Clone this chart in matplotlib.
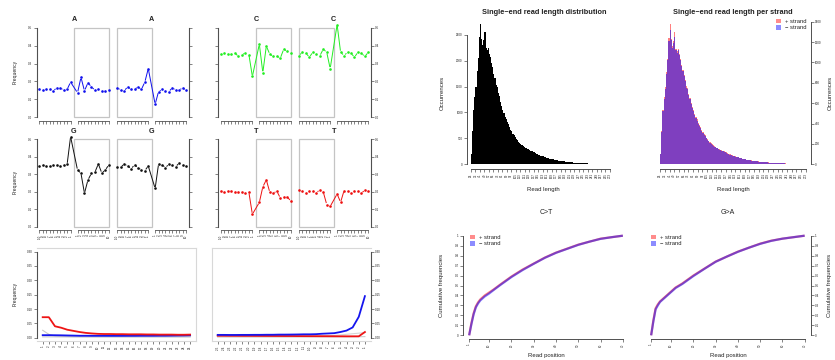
import numpy as np
import matplotlib.pyplot as plt
from matplotlib.patches import Rectangle, Patch

plt.rcParams['font.family'] = ['Liberation Sans', 'DejaVu Sans']

W, H = 835, 360

# ---- data -------------------------------------------------------------
pos_ctx = list(range(-10, 0)) + list(range(1, 11))

a_5p = [0.157, 0.151, 0.155, 0.155, 0.147, 0.164, 0.164, 0.151, 0.155, 0.196,
        0.136, 0.223, 0.147, 0.192, 0.170, 0.151, 0.157, 0.147, 0.147, 0.151]
a_3p = [0.164, 0.151, 0.147, 0.170, 0.155, 0.155, 0.170, 0.155, 0.196, 0.272,
        0.072, 0.143, 0.155, 0.147, 0.143, 0.164, 0.151, 0.151, 0.164, 0.151]
c_5p = [0.353, 0.357, 0.353, 0.355, 0.360, 0.340, 0.347, 0.362, 0.351, 0.228,
        0.409, 0.249, 0.398, 0.353, 0.340, 0.343, 0.330, 0.381, 0.368, 0.358]
c_3p = [0.345, 0.364, 0.358, 0.336, 0.364, 0.353, 0.343, 0.381, 0.364, 0.272,
        0.519, 0.364, 0.345, 0.364, 0.358, 0.336, 0.364, 0.358, 0.340, 0.364]
g_5p = [0.349, 0.353, 0.349, 0.345, 0.353, 0.353, 0.349, 0.355, 0.357, 0.515,
        0.324, 0.305, 0.191, 0.267, 0.305, 0.311, 0.359, 0.307, 0.324, 0.353]
g_3p = [0.340, 0.340, 0.359, 0.347, 0.332, 0.353, 0.338, 0.324, 0.321, 0.347,
        0.219, 0.359, 0.355, 0.338, 0.357, 0.355, 0.344, 0.364, 0.353, 0.347]
t_5p = [0.202, 0.199, 0.204, 0.204, 0.200, 0.200, 0.200, 0.191, 0.197, 0.071,
        0.139, 0.228, 0.268, 0.197, 0.191, 0.204, 0.165, 0.172, 0.172, 0.146]
t_3p = [0.210, 0.204, 0.195, 0.206, 0.206, 0.195, 0.210, 0.199, 0.127, 0.116,
        0.187, 0.140, 0.206, 0.206, 0.195, 0.206, 0.202, 0.191, 0.210, 0.202]

pos_5p = list(range(1, 26))
pos_3p = list(range(-25, 0))
ct_5p = [0.0716, 0.0716, 0.040, 0.035, 0.028, 0.024, 0.020, 0.017, 0.015, 0.0136,
         0.013, 0.013, 0.0125, 0.0125, 0.012, 0.012, 0.012, 0.0115, 0.0115, 0.011,
         0.011, 0.011, 0.0105, 0.0105, 0.011]
ga_5p = [0.009, 0.009, 0.0088, 0.0085, 0.008, 0.0075, 0.007, 0.007, 0.0068, 0.0068,
         0.0068, 0.0067, 0.0067, 0.0067, 0.0068, 0.0068, 0.007, 0.007, 0.007, 0.0072,
         0.0072, 0.0075, 0.0078, 0.008, 0.0085]
other_5p_a = [0.026, 0.012, 0.006, 0.005, 0.0045, 0.004, 0.004, 0.004, 0.004, 0.004,
              0.004, 0.004, 0.004, 0.004, 0.004, 0.004, 0.004, 0.004, 0.004, 0.004,
              0.004, 0.004, 0.004, 0.004, 0.004]
other_5p_b = [0.003, 0.003, 0.003, 0.0028, 0.0028, 0.0027, 0.0027, 0.0026, 0.0026, 0.0026,
              0.0026, 0.0026, 0.0026, 0.0026, 0.0026, 0.0026, 0.0026, 0.0026, 0.0026, 0.0026,
              0.0026, 0.0026, 0.0026, 0.0027, 0.0027]
ga_3p = [0.010, 0.010, 0.0098, 0.0098, 0.010, 0.010, 0.0102, 0.0102, 0.0105, 0.0105,
         0.011, 0.011, 0.0112, 0.0115, 0.012, 0.012, 0.0125, 0.014, 0.015, 0.016,
         0.020, 0.025, 0.036, 0.073, 0.145]
ct_3p = [0.007, 0.007, 0.0068, 0.0068, 0.0066, 0.0066, 0.0065, 0.0064, 0.0063, 0.0062,
         0.0061, 0.006, 0.006, 0.0058, 0.0057, 0.0056, 0.0055, 0.0054, 0.0053, 0.0052,
         0.0051, 0.005, 0.005, 0.005, 0.020]
other_3p_a = [0.004, 0.004, 0.004, 0.004, 0.004, 0.004, 0.004, 0.004, 0.004, 0.004,
              0.004, 0.004, 0.004, 0.0042, 0.0045, 0.005, 0.0055, 0.006, 0.007, 0.008,
              0.010, 0.012, 0.014, 0.016, 0.018]
other_3p_b = [0.0026, 0.0026, 0.0026, 0.0026, 0.0026, 0.0026, 0.0026, 0.0026, 0.0026, 0.0026,
              0.0026, 0.0026, 0.0026, 0.0026, 0.0026, 0.0026, 0.0027, 0.0027, 0.0028, 0.0028,
              0.003, 0.003, 0.0032, 0.0035, 0.004]

# read length histogram, bins of 2 starting at 25
len_total = [200, 650, 1050, 1300, 1500, 1800, 2050, 2450, 2700, 2420, 2300, 2400, 2550, 2250,
             2200, 2250, 2130, 2060, 1950, 1870, 1750, 1660, 1520, 1490, 1380, 1310, 1200, 1130,
             1050, 990, 920, 880, 810, 770, 720, 670, 635, 590, 560, 525, 490, 465, 430, 415,
             390, 372, 350, 338, 320, 307, 295, 286, 275, 266, 255, 242, 228, 218, 205, 197,
             186, 178, 168, 161, 152, 146, 138, 131, 123, 117, 110, 105, 98, 93, 87, 83, 78,
             75, 70, 67, 63, 60, 56, 54, 50, 48, 45, 43, 40, 38, 36, 34, 32, 30, 29, 27, 26,
             24, 22, 20, 19, 18, 17, 16, 15, 15, 14, 13, 13, 12, 12, 11, 10, 10, 9, 9, 8, 8,
             7, 7, 6, 6, 5, 5, 4]
len_plus = [100, 330, 530, 660, 760, 910, 1030, 1240, 1380, 1230, 1160, 1210, 1300, 1130,
            1110, 1130, 1080, 1030, 980, 930, 880, 830, 770, 745, 695, 655, 605, 565, 530,
            495, 465, 440, 410, 385, 365, 340, 318, 298, 283, 263, 248, 233, 218, 208, 198,
            188, 178, 170, 162, 155, 150, 145, 140, 135, 130, 122, 116, 110, 104, 99, 94, 89,
            85, 81, 77, 74, 70, 66, 62, 59, 56, 53, 50, 47, 44, 42, 40, 38, 36, 34, 32, 31,
            29, 28, 27, 25, 24, 23, 22, 21, 20, 19, 18, 17, 16, 15, 14, 13, 12, 11, 10, 10,
            9, 9, 8, 8, 8, 7, 7, 7, 6, 6, 5, 5, 5, 4, 4, 4, 4, 3, 3, 3, 3, 2, 2]
len_minus = [100, 320, 520, 640, 740, 890, 1020, 1210, 1320, 1220, 1140, 1190, 1250, 1120,
             1090, 1120, 1070, 1020, 970, 920, 870, 820, 750, 735, 685, 645, 595, 555, 520,
             485, 455, 430, 400, 375, 355, 330, 312, 292, 277, 257, 242, 227, 212, 202, 192,
             182, 172, 165, 158, 150, 145, 140, 135, 130, 125, 118, 112, 106, 101, 96, 91, 86,
             82, 78, 75, 72, 68, 64, 61, 58, 55, 52, 49, 46, 43, 41, 39, 37, 35, 33, 31, 30,
             28, 27, 26, 24, 23, 22, 21, 20, 19, 18, 17, 16, 15, 14, 13, 12, 11, 11, 10, 9,
             9, 8, 8, 8, 7, 7, 7, 6, 6, 6, 5, 5, 4, 4, 4, 4, 3, 3, 3, 2, 2]

# cumulative C>T / G>A along the read
read_pos = [1, 2, 3, 4, 5, 6, 7, 8, 10, 12, 15, 20, 25, 30, 35, 40, 45, 50, 55, 60, 65, 70]
ct_cum_plus = [0.0, 0.12, 0.22, 0.29, 0.33, 0.36, 0.38, 0.40, 0.43, 0.46, 0.51, 0.59,
               0.66, 0.72, 0.78, 0.83, 0.87, 0.91, 0.94, 0.97, 0.985, 1.0]
ct_cum_minus = [0.0, 0.11, 0.21, 0.28, 0.32, 0.35, 0.37, 0.39, 0.42, 0.455, 0.505, 0.585,
                0.655, 0.718, 0.778, 0.828, 0.868, 0.908, 0.94, 0.968, 0.985, 1.0]
ga_cum_plus = [0.0, 0.15, 0.27, 0.31, 0.34, 0.36, 0.38, 0.40, 0.44, 0.48, 0.52, 0.60,
               0.67, 0.74, 0.79, 0.84, 0.88, 0.92, 0.95, 0.97, 0.985, 1.0]
ga_cum_minus = [0.0, 0.14, 0.26, 0.30, 0.335, 0.355, 0.375, 0.395, 0.435, 0.475, 0.515,
                0.595, 0.668, 0.738, 0.79, 0.838, 0.88, 0.918, 0.948, 0.97, 0.985, 1.0]

AX = '#505050'
TXT = '#222222'


def rect(x0, y0, x1, y1):
    return [x0 / W, 1 - y1 / H, (x1 - x0) / W, (y1 - y0) / H]


fig = plt.figure(figsize=(W / 100, H / 100), dpi=100)


def type_b(ax, xs, ys, color):
    # points joined by lines that stop short of each point (R type="b")
    ax.plot(xs, ys, ls='none', marker='o', ms=1.9, mfc=color, mec=color, mew=0, clip_on=False)
    pts = ax.transData.transform(np.column_stack([xs, ys]))
    inv = ax.transData.inverted()
    gap = 2.0
    for (x0, y0), (x1, y1) in zip(pts[:-1], pts[1:]):
        dx, dy = x1 - x0, y1 - y0
        L = np.hypot(dx, dy)
        if L <= 2 * gap:
            continue
        a = inv.transform([x0 + dx * gap / L, y0 + dy * gap / L])
        b = inv.transform([x1 - dx * gap / L, y1 - dy * gap / L])
        ax.plot([a[0], b[0]], [a[1], b[1]], color=color, lw=0.7, clip_on=False)


def base_panel(px, vals, color, end, title, left_axis, yl_labels, x_labels):
    ax = fig.add_axes(rect(*px))
    ax.set_xlim(-10.8, 10.8)
    ax.set_ylim(-0.02, 0.52)
    for s in ['top', 'bottom', 'left', 'right']:
        ax.spines[s].set_visible(False)
    side = 'left' if left_axis else 'right'
    ax.spines[side].set_visible(True)
    ax.spines[side].set_bounds(0, 0.5)
    ax.spines[side].set_color(AX)
    ax.spines[side].set_linewidth(0.8)
    if side == 'right':
        ax.yaxis.tick_right()
    ax.set_yticks([0, 0.1, 0.2, 0.3, 0.4, 0.5])
    if yl_labels:
        ax.set_yticklabels(['0.0', '0.1', '0.2', '0.3', '0.4', '0.5'])
    else:
        ax.set_yticklabels([])
    ax.set_xticks(pos_ctx)
    if x_labels:
        ax.set_xticklabels([str(p) for p in pos_ctx], rotation=90)
    else:
        ax.set_xticklabels([])
    ax.tick_params(length=2, width=0.5, color=AX, labelsize=2.2, pad=1, labelcolor=TXT)
    for seg in ([-10, -1], [1, 10]):
        ax.plot(seg, [0, 0], color=AX, lw=0.6, transform=ax.get_xaxis_transform(), clip_on=False)
    bx = 0 if end == '5p' else -10
    ax.add_patch(Rectangle((bx, 0), 10, 0.5, fill=False, ec='#C4C4C4', lw=0.9))
    type_b(ax, pos_ctx, vals, color)
    ax.text(0, 1.012, title, transform=ax.get_xaxis_transform(), ha='center', va='bottom',
            fontsize=5.2, fontweight='bold', color=TXT)
    return ax


row1 = (24.4, 120.6)
row2 = (135.8, 230.2)
cols = [(36.6, 111.5), (114.6, 188.8), (218.2, 293.5), (296.2, 371.1)]

base_panel((cols[0][0], row1[0], cols[0][1], row1[1]), a_5p, '#1010EE', '5p', 'A', True, True, False)
base_panel((cols[1][0], row1[0], cols[1][1], row1[1]), a_3p, '#1010EE', '3p', 'A', False, False, False)
base_panel((cols[2][0], row1[0], cols[2][1], row1[1]), c_5p, '#22EE22', '5p', 'C', True, False, False)
base_panel((cols[3][0], row1[0], cols[3][1], row1[1]), c_3p, '#22EE22', '3p', 'C', False, True, False)
base_panel((cols[0][0], row2[0], cols[0][1], row2[1]), g_5p, '#111111', '5p', 'G', True, True, True)
base_panel((cols[1][0], row2[0], cols[1][1], row2[1]), g_3p, '#111111', '3p', 'G', False, False, True)
base_panel((cols[2][0], row2[0], cols[2][1], row2[1]), t_5p, '#EE1010', '5p', 'T', True, False, True)
base_panel((cols[3][0], row2[0], cols[3][1], row2[1]), t_3p, '#EE1010', '3p', 'T', False, True, True)


def sub_panel(px, xs, lines, side, xlim):
    ax = fig.add_axes(rect(*px))
    ax.set_xlim(*xlim)
    ax.set_ylim(-0.012, 0.312)
    for s in ax.spines.values():
        s.set_color('#D8D8D8')
        s.set_linewidth(0.8)
    ax.spines[side].set_color(AX)
    ax.spines[side].set_bounds(0, 0.3)
    if side == 'right':
        ax.yaxis.tick_right()
    ax.set_yticks([0, 0.05, 0.1, 0.15, 0.2, 0.25, 0.3])
    ax.set_yticklabels(['0.00', '0.05', '0.10', '0.15', '0.20', '0.25', '0.30'])
    ax.set_xticks(xs)
    ax.set_xticklabels([str(p) for p in xs], rotation=90)
    ax.tick_params(length=2, width=0.5, color=AX, labelsize=2.2, pad=1, labelcolor=TXT)
    for vals, col, lw in lines:
        ax.plot(xs, vals, color=col, lw=lw, solid_joinstyle='round')
    return ax


sub_panel((36.8, 248.2, 196.0, 341.2), pos_5p,
          [(other_5p_b, '#CCCCCC', 0.8), (other_5p_a, '#C8C8C8', 0.8),
           (ga_5p, '#1515EE', 1.3), (ct_5p, '#EE1515', 1.3)], 'left', (0.04, 25.96))
sub_panel((211.8, 248.2, 370.8, 341.2), pos_3p,
          [(other_3p_b, '#CCCCCC', 0.8), (other_3p_a, '#D5D5D5', 0.8),
           (ct_3p, '#EE1515', 1.3), (ga_3p, '#1515EE', 1.3)], 'right', (-25.96, -0.04))

for yc in (72, 182, 294):
    fig.text(15 / W, 1 - yc / H, 'Frequency', rotation=90, ha='center', va='center',
             fontsize=3.6, color=TXT)

# ---- read length histograms -------------------------------------------
len_ticks = list(range(25, 276, 8))


def hist_axes(px, ylim, yticks, side):
    ax = fig.add_axes(rect(*px))
    ax.set_xlim(18, 282)
    ax.set_ylim(*ylim)
    for s in ['top', 'left', 'right']:
        ax.spines[s].set_visible(False)
    ax.spines[side].set_visible(True)
    ax.spines[side].set_bounds(yticks[0], yticks[-1])
    ax.spines[side].set_color(AX)
    ax.spines[side].set_linewidth(0.7)
    if side == 'right':
        ax.yaxis.tick_right()
    ax.spines['bottom'].set_position(('outward', 3.5))
    ax.spines['bottom'].set_bounds(len_ticks[0], len_ticks[-1])
    ax.spines['bottom'].set_color(AX)
    ax.spines['bottom'].set_linewidth(0.7)
    ax.set_yticks(yticks)
    ax.set_xticks(len_ticks)
    ax.set_xticklabels([str(t) for t in len_ticks], rotation=90)
    ax.tick_params(length=2, width=0.5, color=AX, labelsize=2.2, pad=1, labelcolor=TXT)
    return ax


h1 = hist_axes((467, 21.7, 615, 164.3), (0, 2750), [0, 500, 1000, 1500, 2000, 2500], 'left')
h1.bar(np.arange(25, 25 + 2 * len(len_total), 2), len_total, width=2, align='edge',
       color='black', lw=0)
fig.text(544 / W, 1 - 13 / H, 'Single\u2212end read length distribution', ha='center',
         va='center', fontsize=5.3, fontweight='bold', color=TXT)
fig.text(543 / W, 1 - 190 / H, 'Read length', ha='center', va='center', fontsize=4.3, color=TXT)
fig.text(442 / W, 1 - 93 / H, 'Occurrences', rotation=90, ha='center', va='center',
         fontsize=4.3, color=TXT)

h2 = hist_axes((656, 19.7, 811, 164.3), (0, 1420),
               [0, 200, 400, 600, 800, 1000, 1200, 1400], 'right')
h2.bar(np.arange(25, 25 + 2 * len(len_plus), 2), len_plus, width=2, align='edge',
       color=(1, 0, 0, 0.5), lw=0)
h2.bar(np.arange(25, 25 + 2 * len(len_minus), 2), len_minus, width=2, align='edge',
       color=(0, 0, 1, 0.5), lw=0)
fig.text(733 / W, 1 - 13 / H, 'Single\u2212end read length per strand', ha='center',
         va='center', fontsize=5.3, fontweight='bold', color=TXT)
fig.text(733 / W, 1 - 190 / H, 'Read length', ha='center', va='center', fontsize=4.3, color=TXT)
fig.text(830 / W, 1 - 93 / H, 'Occurrences', rotation=90, ha='center', va='center',
         fontsize=4.3, color=TXT)

strand_handles = [Patch(facecolor=(1, 0, 0, 0.45), lw=0, label='+ strand'),
                  Patch(facecolor=(0, 0, 1, 0.45), lw=0, label='\u2212 strand')]


def strand_legend(ax, x, y):
    ax.legend(handles=strand_handles, loc='upper left', bbox_to_anchor=(x / W, 1 - y / H),
              bbox_transform=fig.transFigure, frameon=False, fontsize=4.2, handlelength=0.8,
              handleheight=0.8, handletextpad=0.7, labelspacing=0.15, borderpad=0,
              borderaxespad=0, labelcolor=TXT)


strand_legend(h2, 776, 19)

# ---- cumulative frequencies -------------------------------------------
pos_ticks = [1, 10, 20, 30, 40, 50, 60, 70]
cum_yticks = [0, 0.1, 0.2, 0.3, 0.4, 0.5, 0.6, 0.7, 0.8, 0.9, 1]


def cum_axes(px, plus, minus, side, title, xc):
    ax = fig.add_axes(rect(*px))
    ax.set_xlim(-1.76, 72.76)
    ax.set_ylim(-0.04, 1.04)
    for s in ['top', 'left', 'right']:
        ax.spines[s].set_visible(False)
    ax.spines[side].set_visible(True)
    ax.spines[side].set_bounds(0, 1)
    ax.spines[side].set_color(AX)
    ax.spines[side].set_linewidth(0.7)
    if side == 'right':
        ax.yaxis.tick_right()
    ax.spines['bottom'].set_bounds(1, 70)
    ax.spines['bottom'].set_color(AX)
    ax.spines['bottom'].set_linewidth(0.7)
    ax.set_yticks(cum_yticks)
    ax.set_yticklabels(['0', '0.1', '0.2', '0.3', '0.4', '0.5', '0.6', '0.7', '0.8', '0.9', '1'])
    ax.set_xticks(pos_ticks)
    ax.set_xticklabels([str(t) for t in pos_ticks], rotation=90)
    ax.tick_params(length=2, width=0.5, color=AX, labelsize=2.2, pad=1, labelcolor=TXT)
    ax.plot(read_pos, plus, color=(1, 0, 0, 0.5), lw=1.6, solid_capstyle='butt')
    ax.plot(read_pos, minus, color=(0, 0, 1, 0.5), lw=1.6, solid_capstyle='butt')
    fig.text(xc / W, 1 - 212 / H, title, ha='center', va='center', fontsize=5.0, color=TXT)
    fig.text(xc / W, 1 - 356 / H, 'Read position', ha='center', va='center', fontsize=4.3,
             color=TXT)
    return ax


c1 = cum_axes((463, 231.7, 629, 339.3), ct_cum_plus, ct_cum_minus, 'left', 'C>T', 546)
c2 = cum_axes((645, 231.7, 810.8, 339.3), ga_cum_plus, ga_cum_minus, 'right', 'G>A', 728)
strand_legend(c1, 470, 235)
strand_legend(c2, 651, 235)
fig.text(442 / W, 1 - 285 / H, 'Cumulative frequencies', rotation=90, ha='center',
         va='center', fontsize=4.3, color=TXT)
fig.text(830 / W, 1 - 285 / H, 'Cumulative frequencies', rotation=90, ha='center',
         va='center', fontsize=4.3, color=TXT)

fig.savefig('out.png', dpi=100, facecolor='white')
